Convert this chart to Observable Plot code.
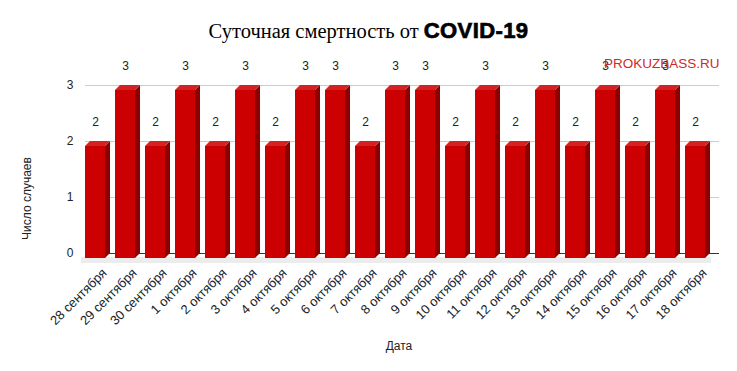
<!DOCTYPE html>
<html>
<head>
<meta charset="utf-8">
<script src="https://cdn.jsdelivr.net/npm/d3@7"></script>
<script src="https://cdn.jsdelivr.net/npm/@observablehq/plot@0.6"></script>
<style>
  body { margin: 0; background: #fff; }
  #wrap { width: 737px; height: 371px; overflow: hidden; background: #fff; }
  #title {
    height: 48px; box-sizing: border-box; padding-top: 19px; line-height: 24px;
    text-align: center; white-space: nowrap; color: #000;
  }
  #title .a { font-family: "Liberation Serif", "Times New Roman", serif; font-size: 20.5px; }
  #title .b { font-family: "Liberation Sans", Arial, sans-serif; font-weight: bold; font-size: 22px;
              letter-spacing: 0.4px; -webkit-text-stroke: 0.7px #000; }
  #chart svg { display: block; }
</style>
</head>
<body>
<div id="wrap">
  <div id="title"><span class="a">Суточная смертность от </span><span class="b">COVID-19</span></div>
  <div id="chart"></div>
</div>
<script>
const dates = ["28 сентября", "29 сентября", "30 сентября", "1 октября", "2 октября", "3 октября",
  "4 октября", "5 октября", "6 октября", "7 октября", "8 октября", "9 октября", "10 октября",
  "11 октября", "12 октября", "13 октября", "14 октября", "15 октября", "16 октября",
  "17 октября", "18 октября"];
const deaths = [2, 3, 2, 3, 2, 3, 2, 3, 3, 2, 3, 3, 2, 3, 2, 3, 2, 3, 2, 3, 2];
const yTicks = [0, 1, 2, 3];
const watermark = "PROKUZBASS.RU";
const yLabel = "Число случаев";
const xLabel = "Дата";

const rows = dates.map((d, i) => ({date: d, value: deaths[i]}));

function bars3d(index, scales, values, dimensions, context) {
  const sx = scales.x, sy = scales.y;
  const bw = typeof sx.bandwidth === "function" ? sx.bandwidth() : sx.bandwidth;
  const d = 5;
  const y0 = sy(0);
  const g = d3.create("svg:g");
  const sh = g.append("g"), bs = g.append("g");
  for (const i of index) {
    const r = rows[i];
    const x0 = sx(r.date), yt = sy(r.value);
    const xf1 = x0 + bw - d;
    sh.append("path")
      .attr("d", `M${x0 - 4},${y0 + d - 1}L${x0 + bw + 1},${y0 + d - 1}L${x0 + bw + 1},${y0 + d + 5}L${x0 - 4},${y0 + d + 5}Z`)
      .attr("fill", "#ececec");
    bs.append("path")
      .attr("d", `M${xf1},${yt + d}L${xf1 + d},${yt}L${xf1 + d},${y0}L${xf1},${y0 + d}Z`)
      .attr("fill", "#8c0000");
    bs.append("path")
      .attr("d", `M${x0},${yt + d}L${x0 + d},${yt}L${x0 + bw},${yt}L${xf1},${yt + d}Z`)
      .attr("fill", "#d42222");
    bs.append("rect")
      .attr("x", x0).attr("y", yt + d)
      .attr("width", bw - d).attr("height", y0 - yt)
      .attr("fill", "#cc0000");
  }
  return g.node();
}

const chart = Plot.plot({
  width: 737,
  height: 323,
  marginLeft: 85,
  marginRight: 18,
  marginTop: 37,
  marginBottom: 118,
  style: {fontFamily: "'Liberation Sans', Arial, sans-serif", fontSize: "12px", background: "#fff", color: "#222"},
  x: {type: "band", domain: dates, paddingInner: 0.168, paddingOuter: 0, align: 0, insetRight: 8, axis: null},
  y: {domain: [0, 3]},
  marks: [
    Plot.ruleY(yTicks.filter(t => t > 0), {stroke: "#cccccc", strokeWidth: 1}),
    Plot.ruleY([0], {stroke: "#333333", strokeWidth: 1}),
    Plot.axisY({ticks: yTicks, tickSize: 0, tickPadding: 12, label: null, fontSize: 12, tickFormat: d => String(d)}),
    Plot.barY(rows, {x: "date", y: "value", render: bars3d}),
    Plot.text(dates, {x: d => d, text: d => d, frameAnchor: "bottom", rotate: -45, textAnchor: "end",
      lineAnchor: "middle", dx: 6.5, dy: 17.3, fontSize: 13, fill: "#222"}),
    Plot.text(rows, {x: "date", y: "value", text: d => String(d.value), dy: -19, dx: -2.5, fontSize: 12, fill: "#222"}),
    Plot.text([watermark], {text: d => d, frameAnchor: "top-right", textAnchor: "end", dy: -27, fill: "#cc2a2a", fontSize: 13.5}),
    Plot.text([yLabel], {text: d => d, frameAnchor: "left", rotate: -90, textAnchor: "middle", lineAnchor: "middle",
      dx: -58, dy: 29, fontSize: 12, fill: "#222"}),
    Plot.text([xLabel], {text: d => d, frameAnchor: "bottom", textAnchor: "middle", lineAnchor: "middle",
      dy: 92.8, dx: -3.5, fontSize: 12, fill: "#222"})
  ]
});
document.getElementById("chart").appendChild(chart);
</script>
</body>
</html>
